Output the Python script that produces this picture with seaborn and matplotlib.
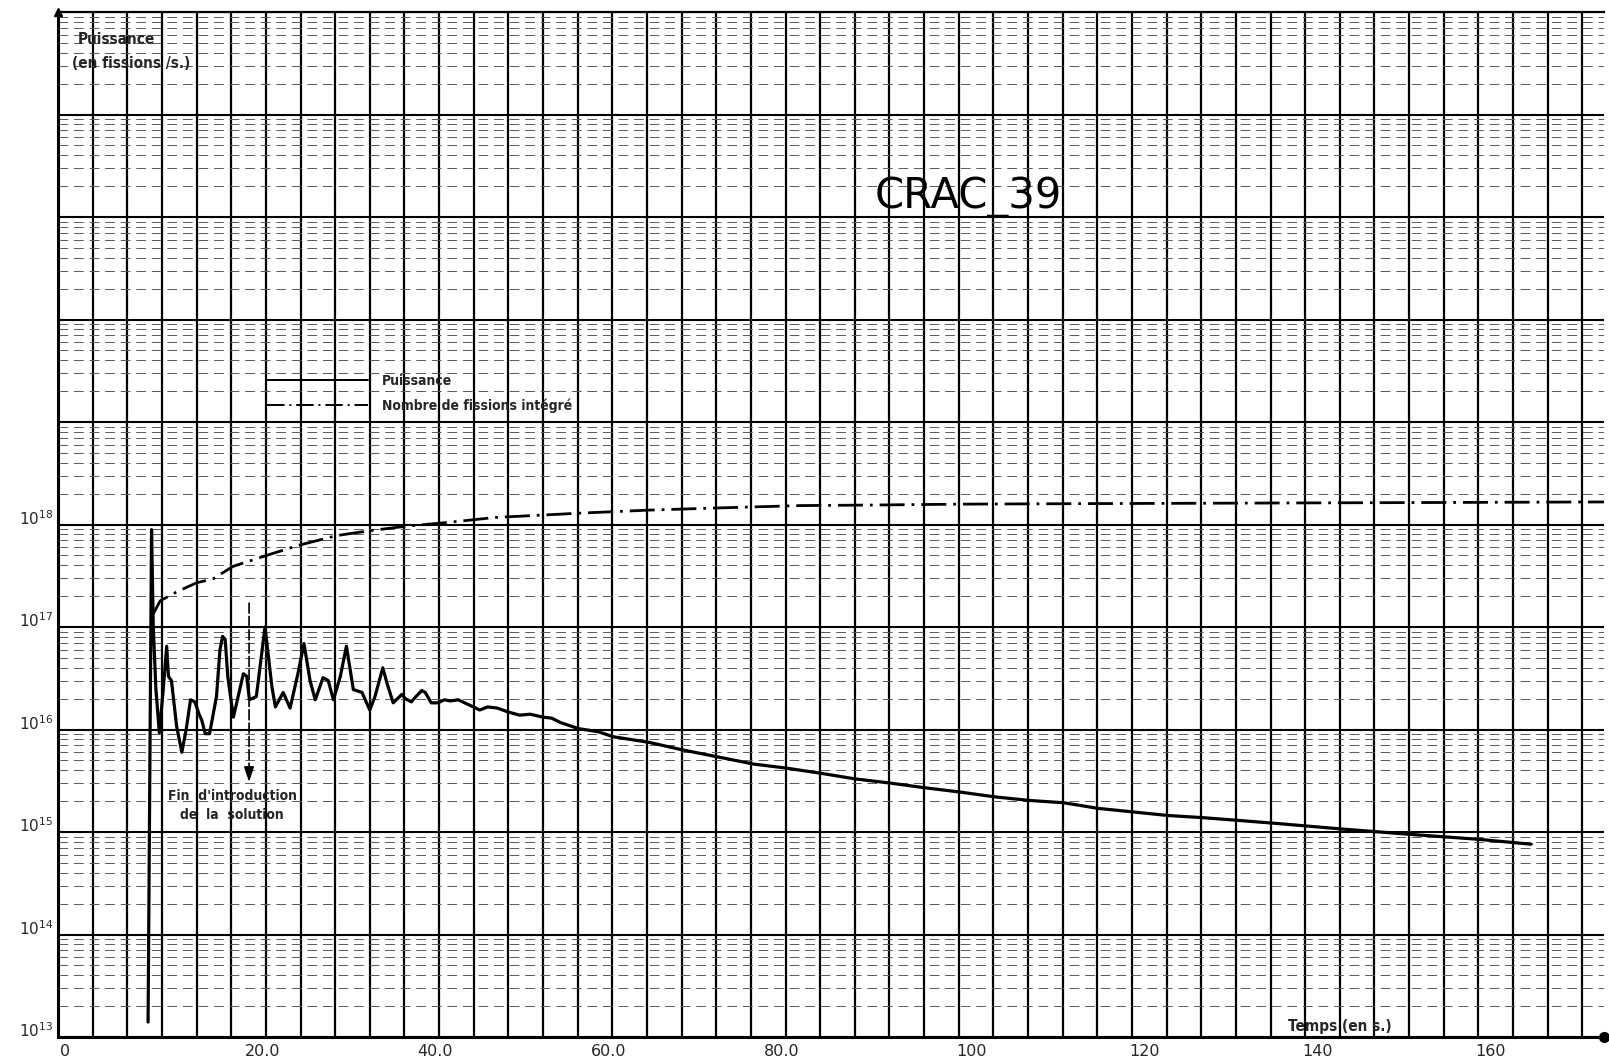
import numpy as np
import pandas as pd
import matplotlib
matplotlib.use("Agg")
import matplotlib.pyplot as plt
import matplotlib.transforms as mtransforms
from matplotlib.ticker import LogLocator, NullFormatter, FixedLocator
import seaborn as sns

# --- Puissance (fissions/s) en fonction du temps (s)
temps_puissance = [
    10.4, 10.8, 11.0, 11.3, 11.7, 12.1, 12.55, 12.75, 13.1, 13.7, 14.3, 14.8,
    15.3, 15.8, 16.3, 16.6, 17.0, 17.5, 18.3, 18.7, 19.0, 19.3, 19.6, 20.25,
    20.8, 21.4, 21.8, 22.1, 22.9, 23.9, 24.7, 25.1, 26.0, 26.8, 27.7, 28.4,
    29.1, 29.7, 30.6, 31.2, 31.8, 32.6, 33.3, 34.1, 35.1, 36.0, 36.6, 37.5,
    38.0, 38.7, 39.7, 40.1, 40.8, 41.2, 42.0, 42.4, 43.1, 43.9, 44.6, 45.3,
    46.2, 47.2, 48.7, 49.6, 50.7, 52.0, 53.3, 54.5, 56.0, 57.0, 58.0, 60.1,
    62.4, 64.1, 68.2, 72.2, 76.2, 80.3, 84.1, 88.0, 92.0, 96.1, 100.1, 104.2,
    108.2, 112.2, 116.1, 120.1, 128.1, 132.2, 140.3, 148.2, 156.0, 163.9, 170.1,
]
puissance = [
    1.4e13, 8.9e17, 1.0e17, 2.5e16, 9.3e15, 2.2e16, 6.5e16, 3.3e16, 3.0e16, 1.07e16, 6.0e15, 1.0e16,
    1.95e16, 1.86e16, 1.4e16, 1.23e16, 9.1e15, 9.1e15, 2.1e16, 6.0e16, 8.1e16, 7.6e16, 3.3e16, 1.32e16,
    2.1e16, 3.5e16, 3.3e16, 1.95e16, 2.1e16, 1.0e17, 2.6e16, 1.66e16, 2.3e16, 1.62e16, 3.5e16, 6.9e16,
    3.0e16, 1.95e16, 3.2e16, 3.0e16, 1.95e16, 3.3e16, 6.5e16, 2.45e16, 2.3e16, 1.55e16, 2.1e16, 4.0e16,
    2.8e16, 1.82e16, 2.2e16, 2.0e16, 1.86e16, 2.04e16, 2.4e16, 2.3e16, 1.82e16, 1.82e16, 1.95e16, 1.9e16,
    1.95e16, 1.78e16, 1.55e16, 1.66e16, 1.62e16, 1.48e16, 1.38e16, 1.41e16, 1.32e16, 1.29e16, 1.17e16, 1.02e16,
    9.5e15, 8.5e15, 7.5e15, 6.3e15, 5.4e15, 4.6e15, 4.2e15, 3.75e15, 3.3e15, 3.0e15, 2.7e15, 2.45e15,
    2.2e15, 2.03e15, 1.93e15, 1.7e15, 1.45e15, 1.38e15, 1.22e15, 1.07e15, 9.5e14, 8.5e14, 7.6e14,
]

# --- Nombre de fissions integre
temps_fissions = [
    10.9, 11.8, 13.7, 16.0, 17.9, 20.2, 24.1, 27.9, 32.2, 36.0, 40.1, 45.1,
    50.4, 60.2, 68.1, 76.1, 85.8, 94.6, 104.4, 120.0, 140.0, 160.0, 178.5,
]
fissions = [
    1.3e17, 1.8e17, 2.2e17, 2.7e17, 2.95e17, 3.9e17, 5.0e17, 6.3e17, 7.8e17, 8.7e17, 9.6e17, 1.05e18,
    1.17e18, 1.29e18, 1.38e18, 1.45e18, 1.53e18, 1.55e18, 1.58e18, 1.6e18, 1.62e18, 1.64e18, 1.66e18,
]

# axis labels
x_ticks = [0, 20, 40, 60, 80, 100, 120, 140, 160]
x_tick_labels = ["0", "20.0", "40.0", "60.0", "80.0", "100", "120", "140", "160"]
y_label_exps = [13, 14, 15, 16, 17, 18]
t_fin_introduction = 22.06

sns.set_style("white")
plt.rcParams["font.family"] = ["DejaVu Sans"]

W, H = 1609, 1061
fig = plt.figure(figsize=(W / 100, H / 100), dpi=100)
x0, x1, y0, y1 = 58, 1604, 12, 1037
ax = fig.add_axes([x0 / W, 1 - y1 / H, (x1 - x0) / W, (y1 - y0) / H])

ax.set_yscale("log")
ax.set_xlim(0, 178.5)
ax.set_ylim(1e13, 1e23)

# log-paper grid
ax.yaxis.set_major_locator(LogLocator(base=10, numticks=30))
ax.yaxis.set_minor_locator(LogLocator(base=10, subs=np.arange(2, 10), numticks=30))
ax.yaxis.set_major_formatter(NullFormatter())
ax.yaxis.set_minor_formatter(NullFormatter())
ax.grid(which="major", axis="y", color="black", lw=1.5, ls="-")
ax.grid(which="minor", axis="y", color="0.35", lw=0.7, ls=(0, (10, 6)))
ax.vlines(np.arange(0, 178, 4), 0, 1, transform=ax.get_xaxis_transform(),
          color="black", lw=1.6, zorder=0.5)

ax.xaxis.set_major_locator(FixedLocator(x_ticks))
ax.xaxis.set_minor_locator(FixedLocator([10, 30, 50, 70, 90, 110, 130, 150, 170]))
ax.set_xticklabels([])
ax.tick_params(axis="x", which="major", direction="out", length=8, width=1.5, color="black")
ax.tick_params(axis="x", which="minor", direction="in", length=5, width=1.2, color="black")
ax.tick_params(axis="y", which="major", direction="out", length=4, width=1.2, color="black")
ax.tick_params(axis="y", which="minor", length=0)

for side in ("left", "bottom"):
    ax.spines[side].set_linewidth(2.2)
    ax.spines[side].set_color("black")
ax.spines["top"].set_linewidth(1.6)
ax.spines["top"].set_color("black")
ax.spines["right"].set_visible(False)

# data curves
df_p = pd.DataFrame({"t": temps_puissance, "v": puissance})
df_f = pd.DataFrame({"t": temps_fissions, "v": fissions})
sns.lineplot(data=df_p, x="t", y="v", ax=ax, color="black", lw=2.3,
             estimator=None, sort=False, label="Puissance", zorder=3)
sns.lineplot(data=df_f, x="t", y="v", ax=ax, color="black", lw=2.0,
             estimator=None, sort=False, linestyle=(0, (9, 2.5, 1, 2.5)),
             label="Nombre de fissions intégré", zorder=3)
ax.set_xlabel("")
ax.set_ylabel("")

hand = dict(family="DejaVu Sans", weight="bold", stretch="condensed")

leg = ax.legend(loc="upper left", bbox_to_anchor=((267 - x0) / (x1 - x0), (y1 - 374) / (y1 - y0)),
                frameon=False, borderpad=0, borderaxespad=0, handlelength=7.3,
                handletextpad=1.0, labelspacing=0.75,
                prop=dict(size=10, **hand))
for line in leg.get_lines():
    line.set_linewidth(1.4)

# tick labels
px = fig.dpi_scale_trans
xtrans = ax.get_xaxis_transform()
for xv, lab in zip(x_ticks, x_tick_labels):
    dx = 7.5 if len(lab) == 1 else (31 if len(lab) == 4 else 47)
    ax.text(xv, 0, lab, transform=xtrans + mtransforms.ScaledTranslation(dx / 100, -14 / 100, px),
            ha="center", va="center", fontsize=11.5, clip_on=False)
ytrans = ax.get_yaxis_transform()
for e in y_label_exps:
    ax.text(0, 10.0 ** e, r"$\mathregular{10^{%d}}$" % e,
            transform=ytrans + mtransforms.ScaledTranslation(-5 / 100, 6 / 100, px),
            ha="right", va="center", fontsize=11, clip_on=False)

# axis titles written on the paper
ax.text((78 - x0) / (x1 - x0), (y1 - 40) / (y1 - y0), "Puissance", transform=ax.transAxes,
        ha="left", va="center", fontsize=11, **hand)
ax.text((72 - x0) / (x1 - x0), (y1 - 63) / (y1 - y0), "(en fissions /s.)", transform=ax.transAxes,
        ha="left", va="center", fontsize=11, **hand)
ax.text((1340 - x0) / (x1 - x0), (y1 - 1027) / (y1 - y0), "Temps (en s.)", transform=ax.transAxes,
        ha="center", va="center", fontsize=11, **hand)

ax.text((968 - x0) / (x1 - x0), (y1 - 197) / (y1 - y0), "CRAC_39", transform=ax.transAxes,
        ha="center", va="center", fontsize=30, fontweight="normal", color="black")

# end of solution injection
ax.annotate("", xy=(t_fin_introduction, 10 ** 15.55), xytext=(t_fin_introduction, 10 ** 17.26),
            arrowprops=dict(arrowstyle="-", lw=1.2, color="black", linestyle=(0, (6, 2))))
ax.annotate("", xy=(t_fin_introduction, 10 ** 15.46), xytext=(t_fin_introduction, 10 ** 15.62),
            arrowprops=dict(arrowstyle="-|>,head_length=0.9,head_width=0.3", lw=1.2, color="black"))
ax.text(20.1, 10 ** 15.26, "Fin  d'introduction\nde  la  solution", ha="center", va="center",
        fontsize=10, linespacing=1.45, **hand)

# axis end markers
ax.plot([1], [0], marker="o", ms=7, color="black", transform=ax.transAxes, clip_on=False)
ax.plot([0], [1], marker="^", ms=6, color="black", transform=ax.transAxes, clip_on=False)

fig.savefig("out.png", dpi=100, facecolor="white")
